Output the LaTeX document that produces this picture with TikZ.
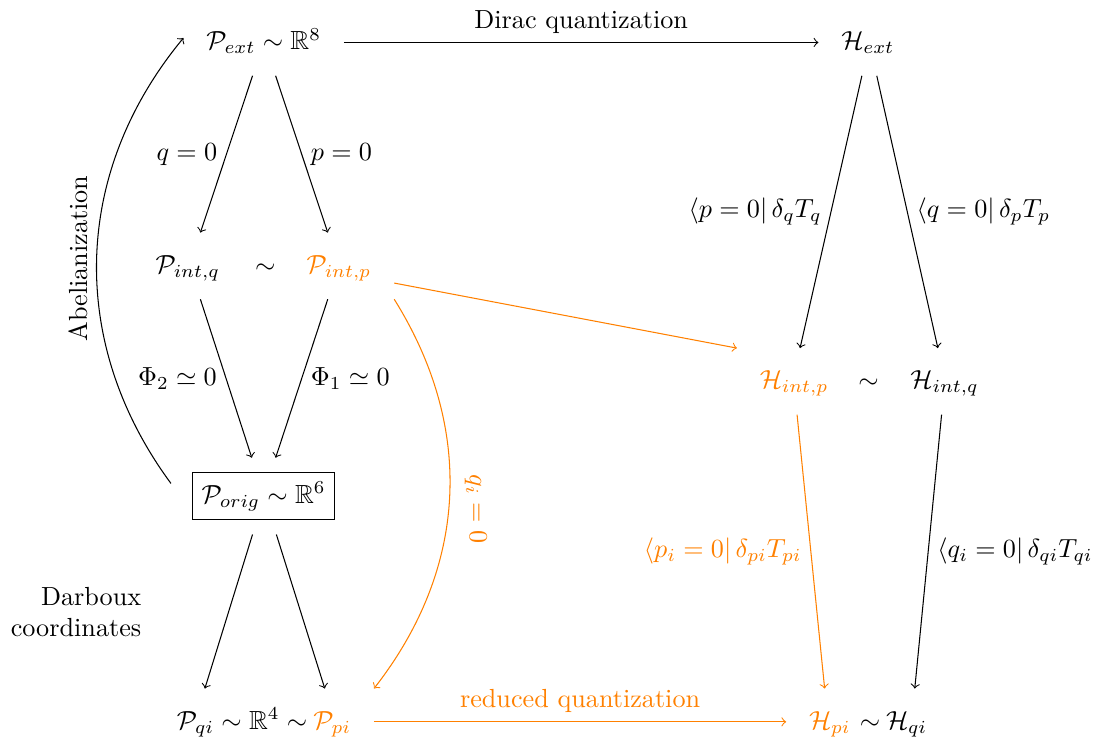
\documentclass[tikz,border=0pt]{standalone}
\usepackage{amsmath,amssymb}
\begin{document}
\begin{tikzpicture}[x=1mm,y=1mm,
  obj/.style={inner xsep=3mm,inner ysep=0pt,minimum height=8.8mm,
    text height=1.8ex,text depth=0.5ex},
  boxobj/.style={draw,inner xsep=0.9mm,inner ysep=0pt,minimum width=19.1mm,
    minimum height=6.3mm,outer sep=2mm,text height=1.8ex,text depth=0.5ex}]
  \useasboundingbox (0,0) rectangle (147.8,99.6);

  % phase spaces
  \node[obj] (pext) at (35.4,93.9) {$\mathcal{P}_{ext}\sim\mathbb{R}^8$};
  \node[obj] (pintq) at (25.2,63.9) {$\mathcal{P}_{int,q}$};
  \node[obj] (simA) at (35.6,63.9) {$\sim$};
  \node[obj,text=orange] (pintp) at (45.5,63.9) {$\mathcal{P}_{int,p}$};
  \node[boxobj] (porig) at (35.4,33.0) {$\mathcal{P}_{orig}\sim\mathbb{R}^6$};
  \node[obj] (pqi) at (32.5,2.7) {$\mathcal{P}_{qi}\sim\mathbb{R}^4\sim$};
  \node[obj,text=orange] (ppi) at (44.6,2.7) {$\mathcal{P}_{pi}$};

  % Hilbert spaces
  \node[obj] (hext) at (116.5,93.9) {$\mathcal{H}_{ext}$};
  \node[obj,text=orange] (hintp) at (106.6,48.4) {$\mathcal{H}_{int,p}$};
  \node[obj] (simB) at (116.6,48.4) {$\sim$};
  \node[obj] (hintq) at (126.8,48.4) {$\mathcal{H}_{int,q}$};
  \node[obj,text=orange] (hpi) at (111.4,2.7) {$\mathcal{H}_{pi}$};
  \node[obj,inner xsep=0pt] (simC) at (116.8,2.7) {$\sim$};
  \node[obj] (hqi) at (121.7,2.7) {$\mathcal{H}_{qi}$};

  \node[align=right,anchor=east] (darboux) at (20.2,17.4) {Darboux\\coordinates};

  \draw[->] (pext.east) -- node[midway,above] {Dirac quantization} (hext.west);
  \draw[->] ([xshift=-1.5mm]pext.south) -- node[midway,left] {$q=0$} ([xshift=1.7mm]pintq.north);
  \draw[->] ([xshift=1.6mm]pext.south) -- node[midway,right] {$p=0$} ([xshift=-1.5mm]pintp.north);
  \draw[->] ([xshift=1.7mm]pintq.south) -- node[midway,left] {$\Phi_2\simeq 0$} ([xshift=-1.6mm]porig.north);
  \draw[->] ([xshift=-1.5mm]pintp.south) -- node[midway,right] {$\Phi_1\simeq 0$} ([xshift=1.6mm]porig.north);
  \draw[->] ([xshift=-1.5mm]porig.south) -- ([xshift=-5mm]pqi.north);
  \draw[->] ([xshift=1.7mm]porig.south) -- ([xshift=-1mm]ppi.north);
  \draw[->] ([shift={(-0.9,1.7)}]porig.west) to[bend left=38]
    node[midway,anchor=south,rotate=90] {Abelianization} ([yshift=0.6mm]pext.west);

  \draw[->,orange] ([yshift=-2.3mm]pintp.east) -- (hintp.north west);
  \draw[->,orange] (pintp.south east) to[bend left=35]
    node[pos=0.53,anchor=south,rotate=-90,outer sep=1mm] {$q_i=0$} (ppi.north east);
  \draw[->,orange] (ppi.east) -- node[midway,above] {reduced quantization} (hpi.west);

  \draw[->] ([xshift=-0.8mm]hext.south) -- node[midway,left] {$\langle p=0|\,\delta_qT_q$} ([xshift=0.8mm]hintp.north);
  \draw[->] ([xshift=1.2mm]hext.south) -- node[midway,right] {$\langle q=0|\,\delta_pT_p$} ([xshift=-0.9mm]hintq.north);
  \draw[->,orange] ([xshift=0.4mm]hintp.south) -- node[midway,left] {$\langle p_i=0|\,\delta_{pi}T_{pi}$} ([xshift=-0.7mm]hpi.north);
  \draw[->] ([xshift=-0.4mm]hintq.south) -- node[midway,right] {$\langle q_i=0|\,\delta_{qi}T_{qi}$} ([xshift=1.1mm]hqi.north);
\end{tikzpicture}
\end{document}
